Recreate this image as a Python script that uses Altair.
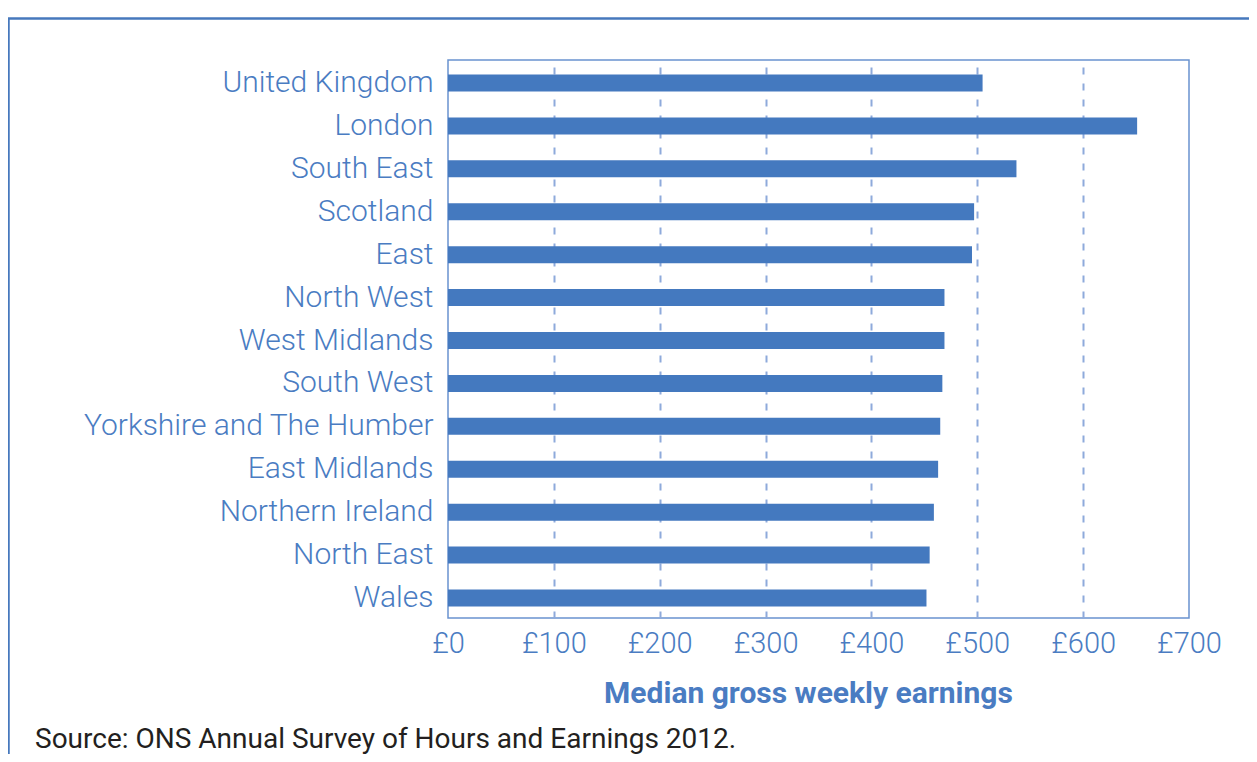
import altair as alt
import pandas as pd

regions = ["United Kingdom", "London", "South East", "Scotland", "East",
           "North West", "West Midlands", "South West",
           "Yorkshire and The Humber", "East Midlands", "Northern Ireland",
           "North East", "Wales"]
earnings = [505, 651, 537, 497, 495, 469, 469, 467, 465, 463, 459, 455, 452]
x_ticks = [0, 100, 200, 300, 400, 500, 600, 700]
x_title = "Median gross weekly earnings"
source_note = "Source: ONS Annual Survey of Hours and Earnings 2012."

BLUE_TEXT = "#4a7cc2"
BAR = "#4479bf"
GRID = "#8eaadb"
FONT = "Roboto"

df = pd.DataFrame({"region": regions, "earnings": earnings})

bars = alt.Chart(df).mark_bar(size=17, color=BAR, yOffset=1.5).encode(
    x=alt.X("earnings:Q",
            scale=alt.Scale(domain=[0, 700], nice=False),
            axis=alt.Axis(values=x_ticks,
                          labelExpr="'£' + datum.value",
                          labelFlush=False, labelOverlap=False,
                          grid=True, gridDash=[7, 9], gridColor=GRID, gridWidth=2,
                          gridOpacity={"condition": {"test": "datum.value == 0 || datum.value == 700", "value": 0}, "value": 1},
                          ticks=False, domain=False,
                          labelPadding=11, labelFontSize=29, labelColor=BLUE_TEXT,
                          labelFont=FONT, labelFontWeight=300,
                          title=x_title, titleFont=FONT, titleFontSize=30,
                          titleFontWeight="bold", titleColor=BLUE_TEXT,
                          titleX=360, titleY=84, titleBaseline="alphabetic")),
    y=alt.Y("region:N", sort=regions,
            scale=alt.Scale(paddingInner=0, paddingOuter=0),
            axis=alt.Axis(title=None, ticks=False, domain=False, grid=False,
                          labelLimit=0, labelOffset=1.5,
                          labelPadding=15, labelFontSize=30, labelColor=BLUE_TEXT,
                          labelFont=FONT, labelFontWeight=300)),
)

one = pd.DataFrame({"k": [0]})
frame_top = alt.Chart(one).mark_rule(color="#4678bd", strokeWidth=2.5).encode(
    x=alt.value(-440), x2=alt.value(830), y=alt.value(-41.5))
frame_left = alt.Chart(one).mark_rule(color="#4678bd", strokeWidth=2.5).encode(
    x=alt.value(-439.5), y=alt.value(-42), y2=alt.value(720))

note = alt.Chart(pd.DataFrame({"t": [source_note]})).mark_text(
    align="left", baseline="alphabetic", fontSize=28, font=FONT,
    color="#231f20").encode(
    x=alt.value(35 - 448), y=alt.value(748 - 60), text="t:N")

chart = alt.layer(bars, frame_top, frame_left, note).properties(
    width=741, height=558,
    autosize=alt.AutoSizeParams(type="none"),
    padding={"left": 440, "top": 52, "right": 60, "bottom": 136},
).configure_view(stroke="#6a93cf", strokeWidth=1.5)

chart.save("out.html", embed_options={"renderer": "svg", "actions": False})
